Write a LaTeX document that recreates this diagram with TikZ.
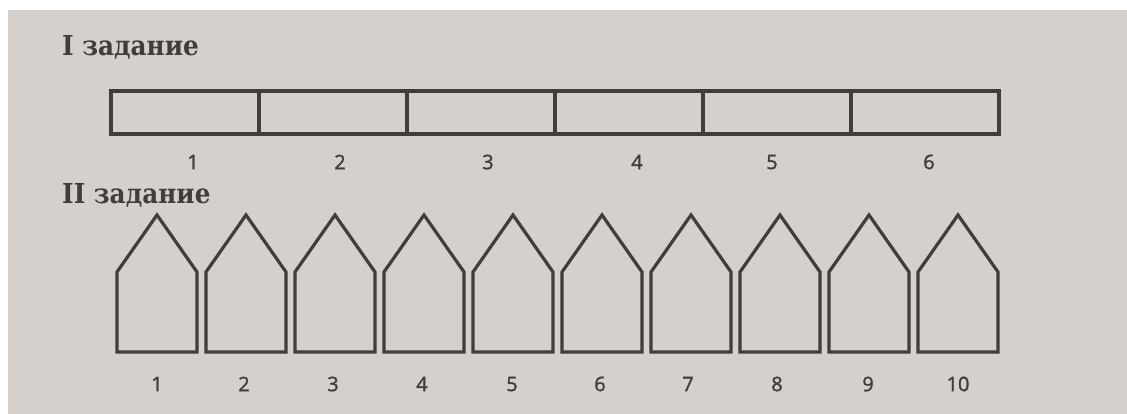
\documentclass[tikz,border=0pt]{standalone}
\usepackage{fontspec}
\newfontfamily\titlefont{DejaVu Serif Condensed}
\newfontfamily\numfont{Open Sans}[FakeBold=1.5]
\usetikzlibrary{positioning}

\definecolor{paper}{RGB}{213,208,203}
\definecolor{ink}{RGB}{64,62,58}

\tikzstyle{head} = [text=ink, font=\titlefont\bfseries\fontsize{27.5}{27.5}\selectfont, anchor=base west, inner sep=0pt]
\tikzstyle{cell} = [draw=ink, line width=3.2pt, minimum width=148pt, minimum height=43pt, inner sep=0pt, outer sep=0pt]
\tikzstyle{num} = [text=ink, font=\numfont\fontsize{20}{20}\selectfont, inner sep=0pt]
\tikzstyle{house} = [draw=ink, line width=3.2pt, line join=miter]

\begin{document}
\begin{tikzpicture}[x=1pt, y=-1pt]
%paper
\fill[white] (0,0) rectangle (1127,414);
\fill[paper] (8,10) rectangle (1127,414);
\useasboundingbox (0,0) rectangle (1127,414);
%begin task I
\node[head] (t1) at (62,56) {I задание};
\node[cell, anchor=north west] (c1) at (111,91) {};
\node[cell, right=0pt of c1] (c2) {};
\node[cell, right=0pt of c2] (c3) {};
\node[cell, right=0pt of c3] (c4) {};
\node[cell, right=0pt of c4] (c5) {};
\node[cell, right=0pt of c5] (c6) {};
\foreach \x [count=\k] in {193,340,488,637,772,929}
    \node[num] (n\k) at (\x,162) {\k};
%end task I
%begin task II
\node[head] (t2) at (62,204) {II задание};
\foreach \i in {0,...,9}
    \draw[house] ({117+89*\i},352) -- ++(0,-80) -- ++(40,-57) -- ++(40,57) -- ++(0,80) -- cycle;
\foreach \x [count=\k] in {157,244,333,422,512,600,688,777,868,958}
    \node[num] (h\k) at (\x,384) {\k};
%end task II
\end{tikzpicture}
\end{document}
